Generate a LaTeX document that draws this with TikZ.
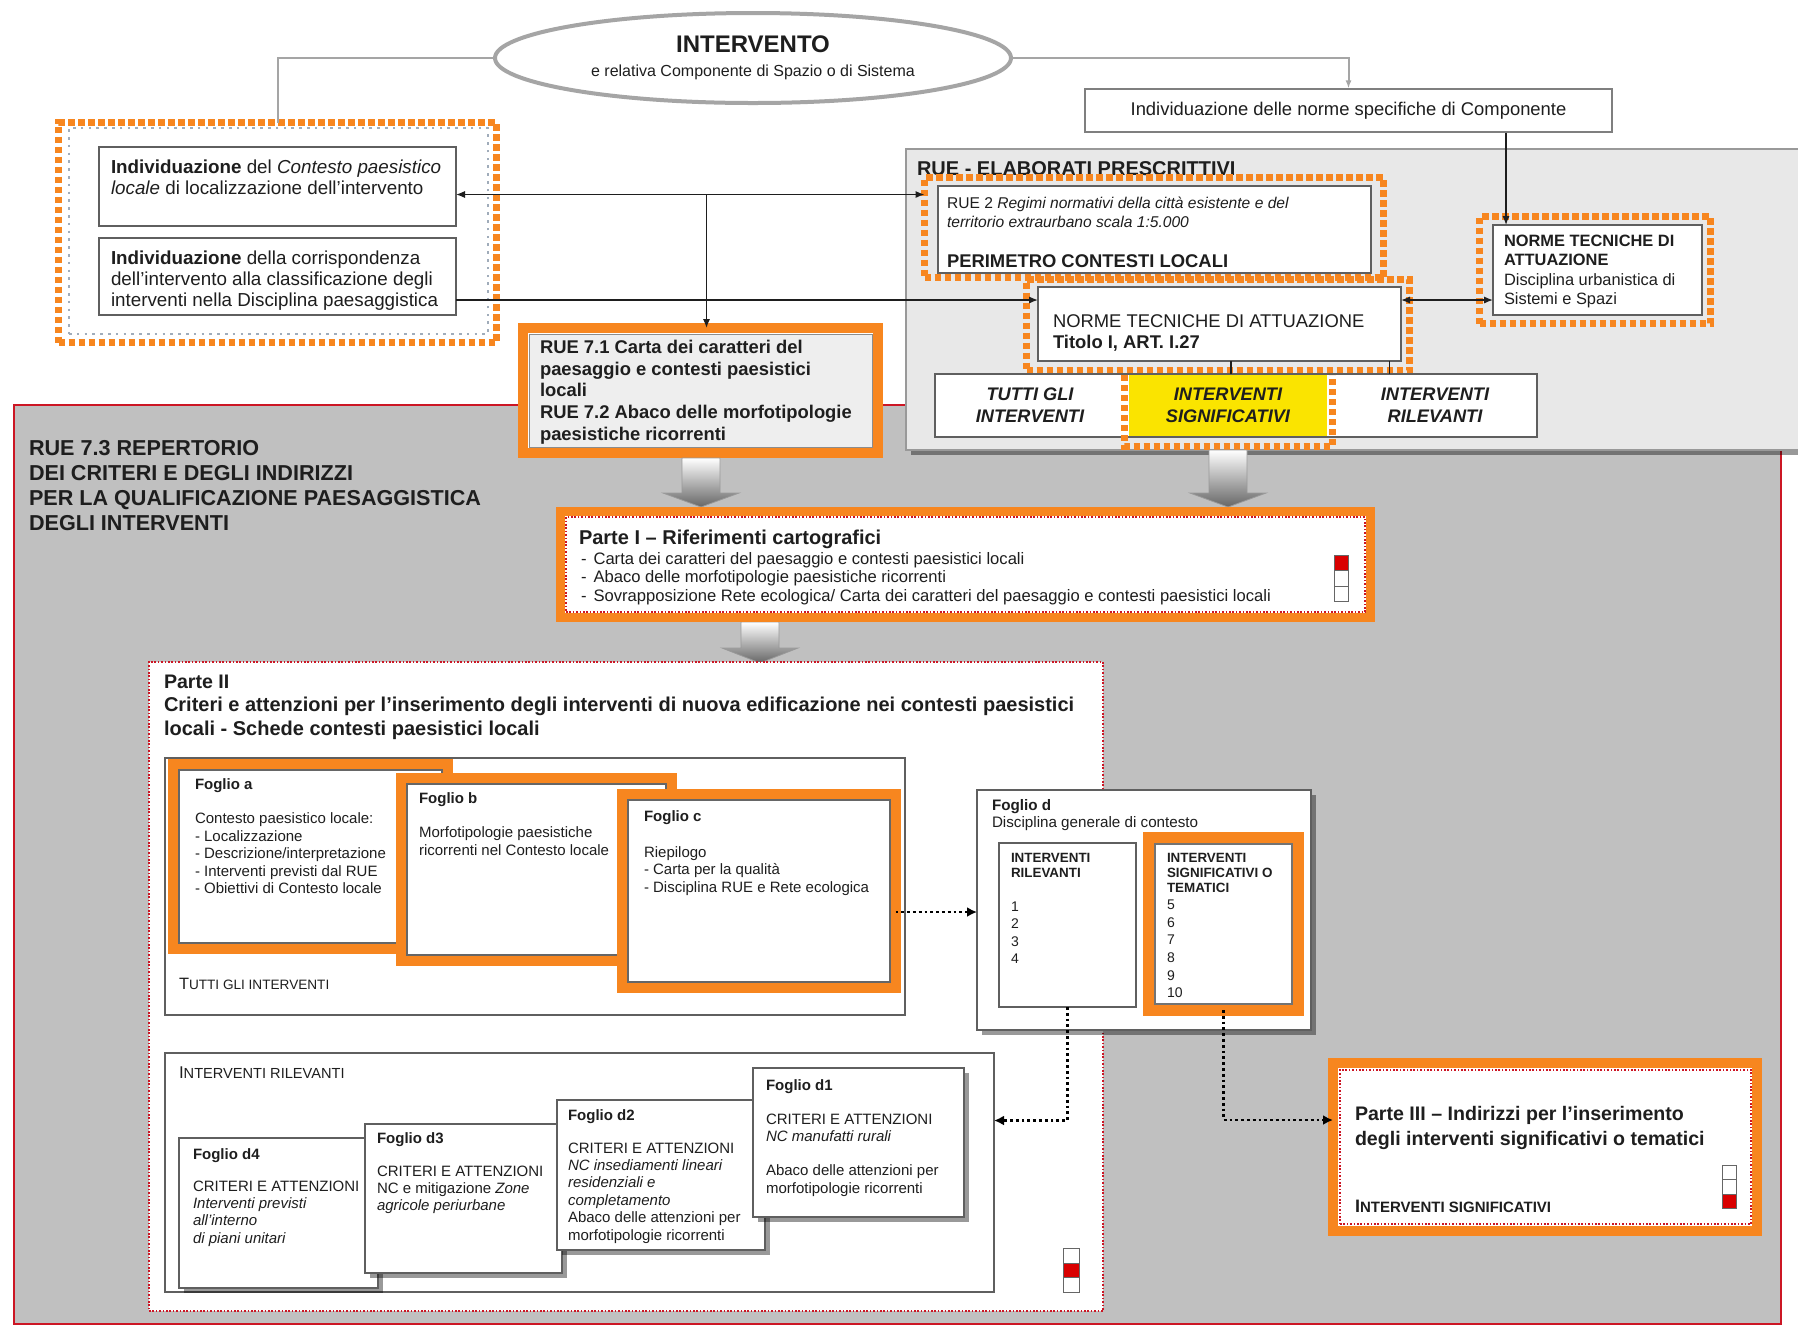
\documentclass[tikz,border=0pt]{standalone}
\usepackage{fontspec}
\setmainfont{Liberation Sans}
\usetikzlibrary{arrows.meta,shadows,shapes.geometric,calc}

\definecolor{orng}{RGB}{247,134,31}
\definecolor{areagray}{RGB}{192,192,192}
\definecolor{elabgray}{RGB}{232,232,232}
\definecolor{rufill}{RGB}{238,238,238}
\definecolor{boxline}{RGB}{95,95,95}
\definecolor{rred}{RGB}{204,22,36}
\definecolor{yel}{RGB}{250,228,0}
\definecolor{ellgray}{RGB}{165,165,165}
\definecolor{dotgray}{RGB}{160,172,186}
\definecolor{ink}{RGB}{30,30,30}

\newcommand\fsz[2]{\fontsize{#1}{#2}\selectfont}
% box from top-left (x1,y1) to bottom-right (x2,y2), in pixel units
\newcommand\bx[6]{%
  \pgfmathsetmacro\bxW{(#4-#2)/2}%
  \pgfmathsetmacro\bxH{(#5-#3)/2}%
  \node[anchor=north west,inner sep=0pt,outer sep=0pt,minimum width=\bxW pt,minimum height=\bxH pt,#6] (#1) at (#2,#3) {};}
% solid orange frame: outer corners and thickness
\newcommand\ofr[6]{%
  \pgfmathsetmacro\bxW{(#4-#2-#6)/2}%
  \pgfmathsetmacro\bxH{(#5-#3-#6)/2}%
  \pgfmathsetmacro\bxL{#6/2}%
  \node[anchor=north west,inner sep=0pt,outer sep=0pt,minimum width=\bxW pt,minimum height=\bxH pt,draw=orng,fill=white,line width=\bxL pt] (#1) at (#2+#6/2,#3+#6/2) {};}
% shaded downward block arrow: centre x, top, head start, tip
\newcommand\blockarr[4]{%
  \shade[top color=white,bottom color=black!60,draw=black!40,line width=0.4pt]
    (#1-19,#2) -- (#1+19,#2) -- (#1+19,#3) -- (#1+38,#3) -- (#1,#4) -- (#1-38,#3) -- (#1-19,#3) -- cycle;}

\begin{document}
\begin{tikzpicture}[x=0.5pt,y=-0.5pt,
  txt/.style={inner sep=0pt,outer sep=0pt,anchor=north west,align=left,text=ink},
  ctxt/.style={inner sep=0pt,outer sep=0pt,align=center,text=ink},
  plainbox/.style={draw=boxline,line width=0.6pt,fill=white},
  odash/.style={draw=orng,line width=3.5pt,dash pattern=on 3.2pt off 1.8pt},
  rdot/.style={draw=rred,line width=0.8pt,dash pattern=on 0.8pt off 0.9pt},
  shad/.style={drop shadow={shadow xshift=2.5pt,shadow yshift=-2.5pt,fill=black,opacity=0.4}},
  conn/.style={draw=ink,line width=0.7pt},
  arr/.style={conn,-{Latex[length=4.5pt,width=3.6pt]}},
  arrtwo/.style={conn,{Latex[length=4.5pt,width=3.6pt]}-{Latex[length=4.5pt,width=3.6pt]}},
  darr/.style={draw=black,line width=1.4pt,dash pattern=on 1.4pt off 1.5pt,-{Latex[length=5pt,width=5pt]}},
  gline/.style={draw=ellgray,line width=1pt},
  cell/.style={draw=black!60,line width=0.5pt,fill=white},
  redcell/.style={draw=black!60,line width=0.5pt,fill=red!85!black}
]

\fill[white] (0,0) rectangle (1798,1330);
\useasboundingbox (0,0) rectangle (1798,1330);

% ---------- RUE 7.3 area ----------
\bx{rep}{14}{405}{1781}{1324}{fill=areagray,draw=rred,line width=1.3pt}

% ---------- top: intervento ----------
\node[ellipse,draw=ellgray,line width=2pt,fill=white,minimum width=258pt,minimum height=45pt,inner sep=0pt,align=center,text=ink] (ell) at (753,58)
  {{\fsz{12}{15}\bfseries INTERVENTO}\\{\fsz{8}{10}e relativa Componente di Spazio o di Sistema}};
\node[draw=boxline!80,line width=0.6pt,fill=white,minimum width=263.5pt,minimum height=21.5pt,inner sep=0pt,text=ink,font=\fsz{9.2}{11}] (nspec) at (1348.5,110.5)
  {Individuazione delle norme specifiche di Componente};

% ---------- RUE elaborati prescrittivi ----------
\bx{elab}{906}{149}{1812}{450}{fill=elabgray,draw=black!40,line width=0.8pt,shad}
\node[txt,anchor=base west,font=\fsz{10}{11}\bfseries] (elabT) at (917,175) {RUE - ELABORATI PRESCRITTIVI};

\bx{rue2o}{924.5}{177.5}{1383.5}{277.5}{odash}
\bx{rue2}{938}{186}{1371}{273}{plainbox}
\node[txt,font=\fsz{7.8}{9.5}] (rue2T) at (947,197.4)
  {RUE 2 \textit{Regimi normativi della città esistente e del}\\\textit{territorio extraurbano scala 1:5.000}};
\node[txt,font=\fsz{9.2}{11}\bfseries] (rue2P) at (947,254.4) {PERIMETRO CONTESTI LOCALI};

\bx{ntaCo}{1026.5}{279.5}{1409.5}{370.5}{odash}
\bx{ntaC}{1038}{287}{1401}{361}{plainbox}
\node[txt,font=\fsz{9.2}{10.5}] (ntaCT) at (1053,314.4) {NORME TECNICHE DI ATTUAZIONE\\\textbf{Titolo I, ART. I.27}};

\bx{ntaRo}{1479.5}{216.5}{1710.5}{323.5}{odash}
\bx{ntaR}{1493}{225}{1702}{315}{plainbox}
\node[txt,font=\fsz{8.2}{9.7}] (ntaRT) at (1504,235)
  {\textbf{NORME TECNICHE DI}\\\textbf{ATTUAZIONE}\\Disciplina urbanistica di\\Sistemi e Spazi};

\bx{cats}{935}{374}{1537}{437}{plainbox}
\bx{ysig}{1129}{375}{1327}{436}{fill=yel,draw=none}
\draw[odash] (ysig.north west) ++(-2.25pt,0) |- ([yshift=-5pt]ysig.south) -| ([xshift=2.75pt]ysig.north east);
\node[ctxt,font=\fsz{9.1}{10.9}\bfseries\itshape] (catTutti) at (1030,405) {TUTTI GLI\\INTERVENTI};
\node[ctxt,font=\fsz{9.1}{10.9}\bfseries\itshape] (catSig) at (1228,405) {INTERVENTI\\SIGNIFICATIVI};
\node[ctxt,font=\fsz{9.1}{10.9}\bfseries\itshape] (catRil) at (1435,405) {INTERVENTI\\RILEVANTI};

% ---------- left: individuazione ----------
\bx{lbox}{58.5}{122.5}{496.5}{342.5}{odash}
\bx{lboxi}{69}{128}{488}{334}{draw=dotgray,line width=1.3pt,dash pattern=on 1.3pt off 2.6pt}
\bx{box1}{99}{147}{456}{226}{plainbox}
\bx{box2}{99}{238}{456}{315}{plainbox}
\node[txt,font=\fsz{9.4}{10.5}] (box1T) at (111,160.2)
  {\textbf{Individuazione} del \textit{Contesto paesistico}\\\textit{locale} di localizzazione dell’intervento};
\node[txt,font=\fsz{9.4}{10.5}] (box2T) at (111,251.2)
  {\textbf{Individuazione} della corrispondenza\\dell’intervento alla classificazione degli\\interventi nella Disciplina paesaggistica};

% ---------- RUE 7.1 / 7.2 ----------
\ofr{r71}{518}{323}{883}{458}{10}
\bx{r71in}{529}{334}{872}{447}{fill=rufill,draw=black!45,line width=0.5pt}
\node[txt,font=\fsz{9.2}{10.8}\bfseries] (r71T) at (540,340.4)
  {RUE 7.1 Carta dei caratteri del\\paesaggio e contesti paesistici\\locali\\RUE 7.2 Abaco delle morfotipologie\\paesistiche ricorrenti};

% ---------- top connectors ----------
\draw[gline] (ell.west) -| (lbox.north);
\draw[gline,-{Latex[length=4pt,width=3pt]}] (ell.east) -| (nspec.north);
\draw[arr] ([xshift=6.5pt]ntaR.north west |- nspec.south) -- ([xshift=6.5pt]ntaR.north west);
\draw[arrtwo] ([yshift=-4pt]box1.east) -- ([yshift=-4pt]box1.east -| rue2o.west);
\coordinate (jn) at ([yshift=-4pt]box1.east -| r71.north);
\draw[arr] ([xshift=3pt]jn) -- ([xshift=3pt]r71.north);
\draw[arr] ([yshift=-11.75pt]box2.east) -- ([yshift=-11.75pt]box2.east -| ntaC.west);
\draw[arrtwo] ([yshift=-11.75pt]box2.east -| ntaC.east) -- ([yshift=-11.75pt]box2.east -| ntaR.west);
\draw[conn] ([xshift=5.75pt]ntaC.south) -- ([xshift=5.75pt]ntaC.south |- cats.north);
\draw[conn] ([xshift=85pt]ntaC.south) -- ([xshift=85pt]ntaC.south |- cats.north);

% ---------- RUE 7.3 title ----------
\node[txt,font=\fsz{10.8}{12.5}\bfseries] (repT) at (29,440.2)
  {RUE 7.3 REPERTORIO\\DEI CRITERI E DEGLI INDIRIZZI\\PER LA QUALIFICAZIONE PAESAGGISTICA\\DEGLI INTERVENTI};

% ---------- block arrows ----------
\blockarr{701}{458}{493}{507}
\blockarr{1228}{450}{493}{507}
\blockarr{760}{622}{648}{663}

% ---------- Parte I ----------
\ofr{p1}{556}{507}{1375}{622}{9}
\bx{p1d}{566}{517}{1365}{612}{rdot}
\node[txt,font=\fsz{10}{12}\bfseries] (p1T) at (579,529.8) {Parte I – Riferimenti cartografici};
\node[txt,font=\fsz{8.3}{9.25}] (p1L) at (581,552)
  {-\hspace{3.5pt}Carta dei caratteri del paesaggio e contesti paesistici locali\\
   -\hspace{3.5pt}Abaco delle morfotipologie paesistiche ricorrenti\\
   -\hspace{3.5pt}Sovrapposizione Rete ecologica/ Carta dei caratteri del paesaggio e contesti paesistici locali};
\bx{c1a}{1334}{555}{1348}{570}{redcell}
\bx{c1b}{1334}{570}{1348}{586}{cell}
\bx{c1c}{1334}{586}{1348}{601}{cell}

% ---------- Parte II ----------
\bx{p2}{149}{662}{1103}{1311}{fill=white,rdot}
\node[txt,font=\fsz{9.8}{11}\bfseries] (p2a) at (164,675) {Parte II};
\node[txt,font=\fsz{10}{12}\bfseries] (p2b) at (164,696.8)
  {Criteri e attenzioni per l’inserimento degli interventi di nuova edificazione nei contesti paesistici\\locali - Schede contesti paesistici locali};

\bx{tutti}{165}{758}{905}{1015}{plainbox}
\ofr{fa}{168}{759}{453}{954}{11}
\bx{fai}{179}{770}{442}{943}{draw=black!60,line width=0.7pt}
\node[txt,font=\fsz{7.5}{8.8}\bfseries] (faT) at (195,778.6) {Foglio a};
\node[txt,font=\fsz{7.5}{8.8}] (faB) at (195,812.6)
  {Contesto paesistico locale:\\- Localizzazione\\- Descrizione/interpretazione\\- Interventi previsti dal RUE\\- Obiettivi di Contesto locale};
\ofr{fb}{396}{773}{677}{966}{11}
\bx{fbi}{407}{784}{666}{955}{draw=black!60,line width=0.7pt}
\node[txt,font=\fsz{7.5}{8.8}\bfseries] (fbT) at (419,792.6) {Foglio b};
\node[txt,font=\fsz{7.5}{9.2}] (fbB) at (419,826.6) {Morfotipologie paesistiche\\ricorrenti nel Contesto locale};
\ofr{fc}{617}{789}{901}{993}{11}
\bx{fci}{628}{800}{890}{982}{draw=black!60,line width=0.7pt}
\node[txt,font=\fsz{7.5}{8.8}\bfseries] (fcT) at (644,810.6) {Foglio c};
\node[txt,font=\fsz{7.5}{8.7}] (fcB) at (644,846.6) {Riepilogo\\- Carta per la qualità\\- Disciplina RUE e Rete ecologica};
\node[txt,anchor=west] (tuttiT) at (179,984) {{\fsz{8.2}{9}T}{\fsz{6.8}{9}UTTI GLI INTERVENTI}};

\bx{intril}{165}{1053}{994}{1292}{plainbox}
\node[txt,anchor=west] (intrilT) at (179,1073) {{\fsz{8.5}{9}I}{\fsz{7.3}{9}NTERVENTI RILEVANTI}};

\bx{d4}{179}{1138}{378}{1288}{plainbox,shad}
\node[txt,font=\fsz{7.5}{8.7}\bfseries] (d4T) at (193,1148.6) {Foglio d4};
\node[txt,font=\fsz{7.5}{8.7}] (d4B) at (193,1180.6)
  {CRITERI E ATTENZIONI\\\textit{Interventi previsti}\\\textit{all’interno}\\\textit{di piani unitari}};
\bx{d3}{365}{1124}{562}{1273}{plainbox,shad}
\node[txt,font=\fsz{7.5}{8.7}\bfseries] (d3T) at (377,1132.6) {Foglio d3};
\node[txt,font=\fsz{7.5}{8.7}] (d3B) at (377,1165.6)
  {CRITERI E ATTENZIONI\\NC e mitigazione \textit{Zone}\\\textit{agricole periurbane}};
\bx{d2}{557}{1100}{765}{1250}{plainbox,shad}
\node[txt,font=\fsz{7.5}{8.7}\bfseries] (d2T) at (568,1109.6) {Foglio d2};
\node[txt,font=\fsz{7.5}{8.7}] (d2B) at (568,1142.6)
  {CRITERI E ATTENZIONI\\\textit{NC insediamenti lineari}\\\textit{residenziali e}\\\textit{completamento}\\Abaco delle attenzioni per\\morfotipologie ricorrenti};
\bx{d1}{753}{1068}{964}{1217}{plainbox,shad}
\node[txt,font=\fsz{7.5}{8.7}\bfseries] (d1T) at (766,1079.6) {Foglio d1};
\node[txt,font=\fsz{7.5}{8.7}] (d1B) at (766,1113.6)
  {CRITERI E ATTENZIONI\\\textit{NC manufatti rurali}\\[8.5pt]Abaco delle attenzioni per\\morfotipologie ricorrenti};

\bx{c2a}{1063}{1248}{1079}{1263}{cell}
\bx{c2b}{1063}{1263}{1079}{1277}{redcell}
\bx{c2c}{1063}{1277}{1079}{1292}{cell}

% ---------- Foglio d ----------
\bx{fd}{977}{790}{1311}{1030}{plainbox,shad}
\node[txt,font=\fsz{7.6}{8.5}] (fdT) at (992,799.4) {\textbf{Foglio d}\\Disciplina generale di contesto};
\bx{ril}{999}{843}{1136}{1007}{plainbox}
\node[txt,font=\fsz{6.7}{7.6}\bfseries] (rilT) at (1011,853.2) {INTERVENTI\\RILEVANTI};
\node[txt,font=\fsz{7}{8.6}] (rilN) at (1011,902) {1\\2\\3\\4};
\ofr{sig}{1143}{832}{1304}{1016}{12}
\bx{sigin}{1155}{844}{1292}{1004}{draw=black!55,line width=0.6pt}
\node[txt,font=\fsz{6.7}{7.6}\bfseries] (sigT) at (1167,853.2) {INTERVENTI\\SIGNIFICATIVI O\\TEMATICI};
\node[txt,font=\fsz{7}{8.8}] (sigN) at (1167,900) {5\\6\\7\\8\\9\\10};

% ---------- Parte III ----------
\ofr{p3}{1328}{1058}{1762}{1236}{10}
\bx{p3d}{1340}{1070}{1751}{1224}{rdot}
\node[txt,font=\fsz{9.8}{12.5}\bfseries] (p3T) at (1355,1106)
  {Parte III – Indirizzi per l’inserimento\\degli interventi significativi o tematici};
\node[txt,anchor=west] (p3S) at (1355,1206) {\bfseries{\fsz{9}{9}I}{\fsz{7.5}{9}NTERVENTI SIGNIFICATIVI}};
\bx{c3a}{1722}{1165}{1736}{1179}{cell}
\bx{c3b}{1722}{1179}{1736}{1194}{cell}
\bx{c3c}{1722}{1194}{1736}{1208}{redcell}

% ---------- dotted connectors ----------
\draw[darr] ([yshift=-10.5pt]fc.east) -- ([yshift=-10.5pt]fc.east -| fd.west);
\draw[darr] (ril.south) |- ([yshift=26pt]intril.east);
\draw[darr] (sig.south) |- ([yshift=13.5pt]p3.west);

\end{tikzpicture}
\end{document}
